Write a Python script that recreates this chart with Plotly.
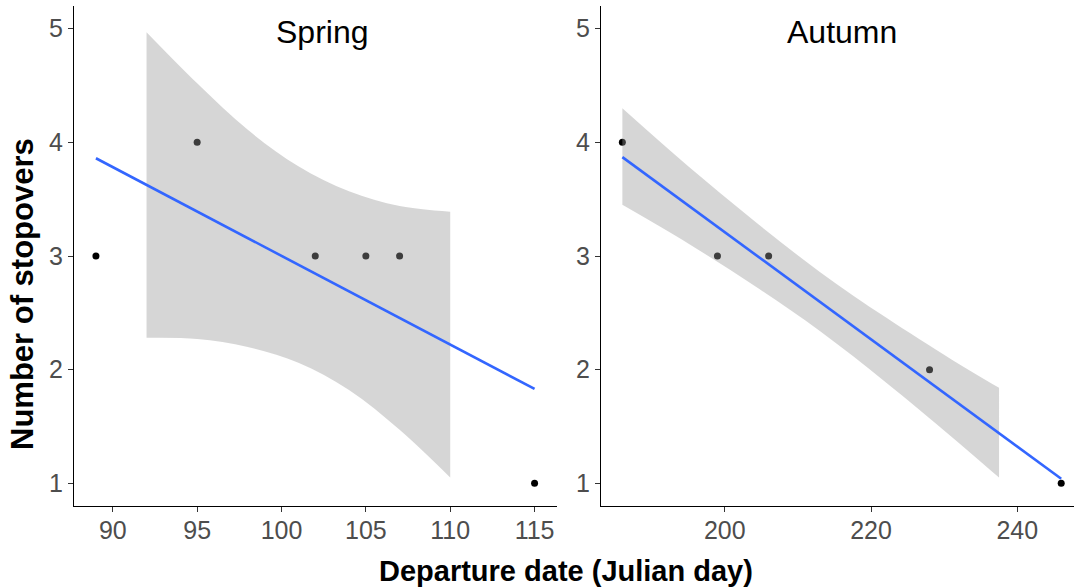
import plotly.graph_objects as go

# Observed departures (Julian day) and number of stopovers
spring_day = [89, 95, 102, 105, 107, 115]
spring_stops = [3, 4, 3, 3, 3, 1]
autumn_day = [186, 199, 206, 228, 246]
autumn_stops = [4, 3, 3, 2, 1]

# Linear fit end points
spring_fit_x = [89, 115]
spring_fit_y = [3.86, 1.83]
autumn_fit_x = [186, 246]
autumn_fit_y = [3.87, 1.04]

# 95% confidence band of the fit
spring_band_x = [92, 95, 98, 101, 104, 107, 110]
spring_band_hi = [4.97, 4.52, 4.11, 3.79, 3.57, 3.44, 3.39]
spring_band_lo = [2.28, 2.27, 2.20, 2.06, 1.82, 1.47, 1.05]
autumn_band_x = [186, 195, 204, 213, 222, 231, 237.5]
autumn_band_hi = [4.30, 3.79, 3.31, 2.86, 2.46, 2.09, 1.84]
autumn_band_lo = [3.45, 3.11, 2.74, 2.34, 1.89, 1.41, 1.05]

spring_ticks = [90, 95, 100, 105, 110, 115]
autumn_ticks = [200, 220, 240]
y_ticks = [1, 2, 3, 4, 5]

W, H = 1074, 588
FONT = "Liberation Sans, Arial, sans-serif"
BAND = "rgba(153,153,153,0.4)"
BLUE = "#3366FF"


def px_x(p):
    return p / W


def px_y(p):
    return 1 - p / H


fig = go.Figure()


def add_panel(days, stops, fx, fy, bx, bhi, blo, xa, ya):
    fig.add_trace(go.Scatter(
        x=days, y=stops, mode="markers", xaxis=xa, yaxis=ya,
        marker=dict(color="black", size=7), showlegend=False, hoverinfo="skip"))
    # lower edge, then upper edge filled down to it
    fig.add_trace(go.Scatter(
        x=bx, y=blo, mode="lines", line=dict(width=0, shape="spline", smoothing=1.0),
        xaxis=xa, yaxis=ya, showlegend=False, hoverinfo="skip"))
    fig.add_trace(go.Scatter(
        x=bx, y=bhi, mode="lines", fill="tonexty", fillcolor=BAND,
        line=dict(width=0, shape="spline", smoothing=1.0),
        xaxis=xa, yaxis=ya, showlegend=False, hoverinfo="skip"))
    fig.add_trace(go.Scatter(
        x=fx, y=fy, mode="lines", line=dict(color=BLUE, width=2.6),
        xaxis=xa, yaxis=ya, showlegend=False, hoverinfo="skip"))


add_panel(spring_day, spring_stops, spring_fit_x, spring_fit_y,
          spring_band_x, spring_band_hi, spring_band_lo, "x", "y")
add_panel(autumn_day, autumn_stops, autumn_fit_x, autumn_fit_y,
          autumn_band_x, autumn_band_hi, autumn_band_lo, "x2", "y2")

axis_common = dict(
    showline=True, linecolor="black", linewidth=1.3, mirror=False,
    showgrid=False, zeroline=False, ticks="outside", ticklen=5,
    tickwidth=1.1, tickcolor="#333333",
    tickfont=dict(family=FONT, size=25, color="#4d4d4d"),
)
y_dom = [px_y(506), px_y(6)]

fig.update_layout(
    width=W, height=H, margin=dict(l=0, r=0, t=0, b=0),
    paper_bgcolor="white", plot_bgcolor="white",
    xaxis=dict(domain=[px_x(74), px_x(556.5)], range=[87.7, 116.3],
               tickvals=spring_ticks, anchor="y", ticklabelstandoff=-3,
               **axis_common),
    yaxis=dict(domain=y_dom, range=[0.8, 5.2], tickvals=y_ticks,
               anchor="x", **axis_common),
    xaxis2=dict(domain=[px_x(601), 1.0], range=[183.08, 247.75],
                tickvals=autumn_ticks, anchor="y2", ticklabelstandoff=-3,
                **axis_common),
    yaxis2=dict(domain=y_dom, range=[0.8, 5.2], tickvals=y_ticks,
                anchor="x2", **axis_common),
    annotations=[
        dict(text="Spring", x=px_x(322), y=px_y(32), xref="paper", yref="paper",
             showarrow=False, font=dict(family=FONT, size=32, color="black"),
             xanchor="center", yanchor="middle"),
        dict(text="Autumn", x=px_x(842), y=px_y(32), xref="paper", yref="paper",
             showarrow=False, font=dict(family=FONT, size=32, color="black"),
             xanchor="center", yanchor="middle"),
        dict(text="<b>Number of stopovers</b>", x=px_x(22), y=px_y(294),
             xref="paper", yref="paper", showarrow=False, textangle=-90,
             font=dict(family=FONT, size=31, color="black"),
             xanchor="center", yanchor="middle"),
        dict(text="<b>Departure date (Julian day)</b>", x=px_x(566), y=px_y(588.5),
             xref="paper", yref="paper", showarrow=False,
             font=dict(family=FONT, size=29, color="black"),
             xanchor="center", yanchor="bottom"),
    ],
)

fig.write_html("out.html")
